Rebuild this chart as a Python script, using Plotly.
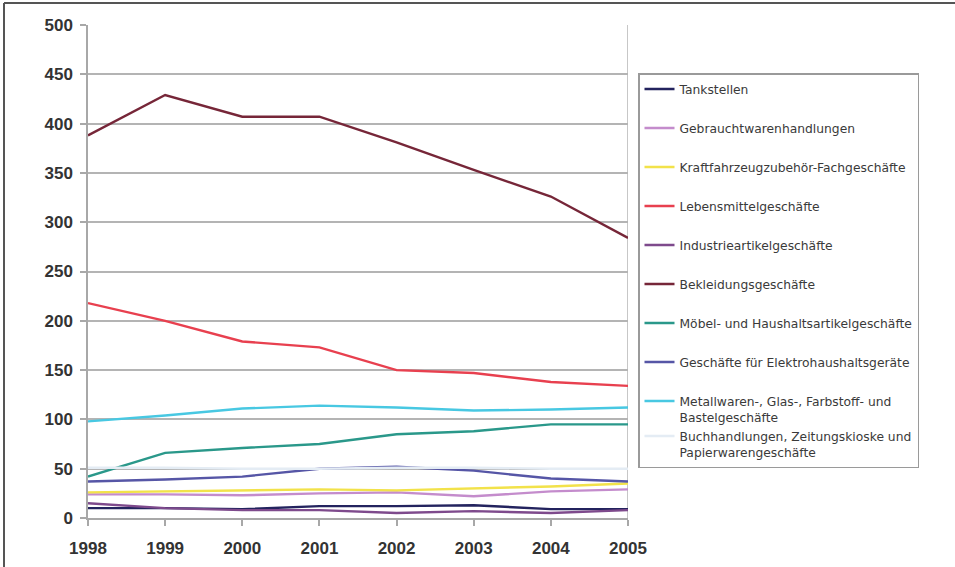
import plotly.graph_objects as go

years = [1998, 1999, 2000, 2001, 2002, 2003, 2004, 2005]

tankstellen = [10, 10, 9, 12, 12, 13, 9, 9]
gebrauchtwaren = [24, 24, 23, 25, 26, 22, 27, 29]
kfz_zubehoer = [26, 27, 28, 29, 28, 30, 32, 35]
lebensmittel = [218, 200, 179, 173, 150, 147, 138, 134]
industrieartikel = [15, 10, 8, 8, 5, 7, 5, 8]
bekleidung = [388, 429, 407, 407, 381, 353, 326, 284]
moebel = [42, 66, 71, 75, 85, 88, 95, 95]
elektro = [37, 39, 42, 50, 52, 48, 40, 37]
metallwaren = [98, 104, 111, 114, 112, 109, 110, 112]
buchhandlungen = [51, 51, 50, 50, 51, 51, 50, 50]

# (legend label, values, colour, legend group)
series = [
    ("Tankstellen", tankstellen, "#23235e", "g0"),
    ("Gebrauchtwarenhandlungen", gebrauchtwaren, "#c48ccc", "g1"),
    ("Kraftfahrzeugzubehör-Fachgeschäfte", kfz_zubehoer, "#f2e24a", "g2"),
    ("Lebensmittelgeschäfte", lebensmittel, "#e8404f", "g3"),
    ("Industrieartikelgeschäfte", industrieartikel, "#7e4a8c", "g4"),
    ("Bekleidungsgeschäfte", bekleidung, "#762638", "g5"),
    ("Möbel- und Haushaltsartikelgeschäfte", moebel, "#2a988a", "g6"),
    ("Geschäfte für Elektrohaushaltsgeräte", elektro, "#5656a6", "g7"),
    ("Metallwaren-, Glas-, Farbstoff- und<br>Bastelgeschäfte", metallwaren, "#48c8e2", "g8"),
    ("Buchhandlungen, Zeitungskioske und<br>Papierwarengeschäfte", buchhandlungen, "#e4ecf4", "g8"),
]

fig = go.Figure()
for name, vals, color, group in series:
    fig.add_trace(go.Scatter(
        x=years, y=vals, name=name, mode="lines",
        line=dict(color=color, width=2.4),
        legendgroup=group,
    ))

L, R, T, B = 88, 327, 25, 49
W, H = 955, 567
pw, ph = W - L - R, H - T - B

axis_font = dict(family="Liberation Sans, Arial, sans-serif", size=17, color="#333333", weight="bold")

fig.update_layout(
    width=W, height=H,
    margin=dict(l=L, r=R, t=T, b=B, autoexpand=False),
    paper_bgcolor="white", plot_bgcolor="white",
    showlegend=True,
    legend=dict(
        x=(638 - L) / pw, xanchor="left",
        y=(H - B - 73) / ph, yanchor="top",
        bordercolor="#9a9a9a", borderwidth=1.5,
        bgcolor="white",
        font=dict(family="DejaVu Sans, sans-serif", size=12.3, color="#3a3a3a"),
        tracegroupgap=20,
        valign="top",
        itemwidth=30,
    ),
    xaxis=dict(
        range=[1998, 2005], tickvals=years, ticktext=[str(y) for y in years],
        showgrid=False, showline=True, linecolor="#a8a8a8", linewidth=1.5,
        ticks="outside", ticklen=6, tickcolor="#a8a8a8", tickwidth=1.5,
        tickfont=axis_font, ticklabelstandoff=8, zeroline=False, automargin=False,
    ),
    yaxis=dict(
        range=[0, 500], dtick=50, tick0=0,
        showgrid=True, gridcolor="#b4b4b4", gridwidth=1.5,
        showline=True, linecolor="#a8a8a8", linewidth=1.5,
        ticks="outside", ticklen=6, tickcolor="#a8a8a8", tickwidth=1.5,
        tickfont=axis_font, ticklabelstandoff=4, zeroline=False, automargin=False,
    ),
)

# right edge of the plotting area
fig.add_shape(type="line", xref="x", yref="paper", x0=2005, x1=2005, y0=0, y1=1,
              line=dict(color="#b4b4b4", width=1.5), layer="below")

# outer frame lines along the top and left side of the figure
fig.add_shape(type="line", xref="paper", yref="paper",
              x0=(4 - L) / pw, x1=(W - L) / pw,
              y0=(H - B - 3) / ph, y1=(H - B - 3) / ph,
              line=dict(color="#555555", width=2))
fig.add_shape(type="line", xref="paper", yref="paper",
              x0=(4 - L) / pw, x1=(4 - L) / pw,
              y0=(H - B - 3) / ph, y1=-B / ph,
              line=dict(color="#555555", width=2))

fig.write_html("out.html")
